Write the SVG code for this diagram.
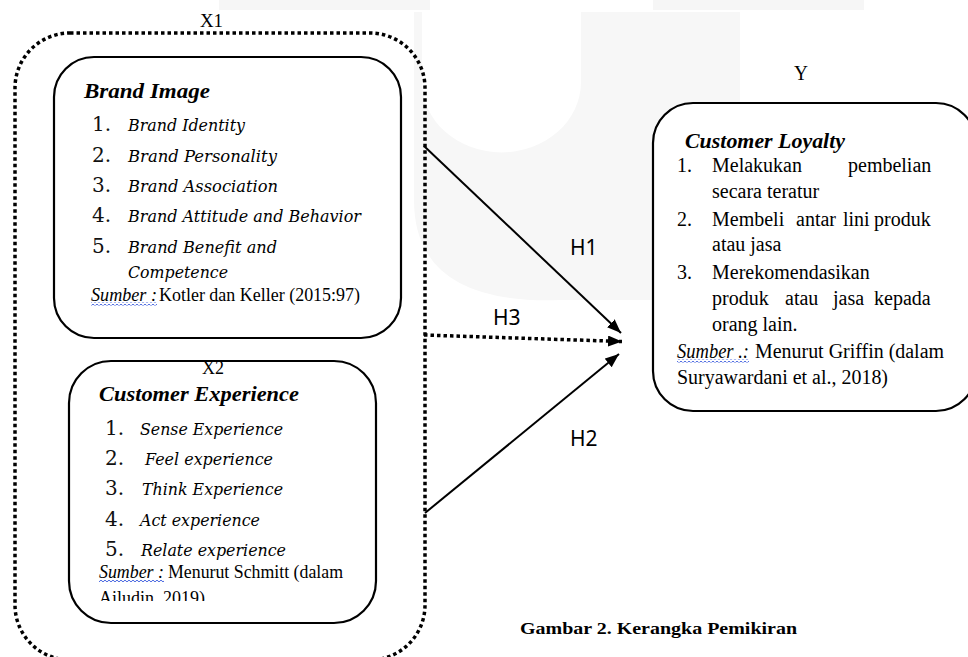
<svg xmlns="http://www.w3.org/2000/svg" width="968" height="657" viewBox="0 0 968 657">
<style>
.box{fill:#fff;stroke:#000;stroke-width:2.2}
.dot{fill:none;stroke:#000;stroke-width:3.5;stroke-dasharray:3.5 3}
.ln{fill:none;stroke:#000;stroke-width:2}
.hd{font-family:"Liberation Serif","Times New Roman",serif;font-weight:bold;font-style:italic;font-size:22px;fill:#000}
.it{font-family:"DejaVu Serif",serif;font-style:italic;font-size:17.5px;fill:#000}
.num{font-family:"DejaVu Serif",serif;font-size:20px;fill:#111}
.tm{font-family:"Liberation Serif","Times New Roman",serif;font-size:20px;fill:#000}
.sm{font-family:"Liberation Serif","Times New Roman",serif;font-size:18px;fill:#000}
.i{font-style:italic}
.lbl{font-family:"Noto Sans","Liberation Sans",sans-serif;font-size:21px;fill:#000}
.cap{font-family:"Liberation Serif","Times New Roman",serif;font-weight:bold;font-size:17px;fill:#000}
</style>
<defs>
<marker id="ah" markerUnits="userSpaceOnUse" markerWidth="15" markerHeight="12" refX="14" refY="5.5" orient="auto">
<path d="M0,0 L14,5.5 L0,11 Z" fill="#000"/>
</marker>
<pattern id="wave" width="4" height="3" patternUnits="userSpaceOnUse">
<path d="M0,2 Q1,0.3 2,2 T4,2" fill="none" stroke="#3355dd" stroke-width="0.9"/>
</pattern>
<clipPath id="cut"><rect x="60" y="580" width="320" height="21"/></clipPath>
</defs>

<g id="background">
<rect x="219" y="0" width="211" height="10" fill="#f6f6f6"/>
<rect x="653" y="0" width="211" height="10" fill="#f6f6f6"/>
<path d="M414,12 H740 V300 H560 Q414,305 414,200 Z" fill="#f7f7f7"/>
<path d="M422,12 H581 V82 A79,70 0 0 1 422,82 Z" fill="#fff"/>
</g>

<g id="X1">
<rect class="dot" x="15" y="33" width="410" height="627" rx="55" ry="55"/>
<text class="sm" x="200" y="27" textLength="23" lengthAdjust="spacingAndGlyphs">X1</text>
</g>

<g id="brand-image">
<rect class="box" x="54" y="57" width="347" height="281" rx="40" ry="40"/>
<text class="hd" x="84" y="98" textLength="126" lengthAdjust="spacingAndGlyphs">Brand Image</text>
<text class="num" x="92" y="131">1.</text>
<text class="it" x="128" y="131" textLength="117" lengthAdjust="spacingAndGlyphs">Brand Identity</text>
<text class="num" x="92" y="162">2.</text>
<text class="it" x="128" y="162" textLength="149" lengthAdjust="spacingAndGlyphs">Brand Personality</text>
<text class="num" x="92" y="192">3.</text>
<text class="it" x="128" y="192" textLength="150" lengthAdjust="spacingAndGlyphs">Brand Association</text>
<text class="num" x="92" y="222">4.</text>
<text class="it" x="128" y="222" textLength="233" lengthAdjust="spacingAndGlyphs">Brand Attitude and Behavior</text>
<text class="num" x="92" y="253">5.</text>
<text class="it" x="128" y="253" textLength="149" lengthAdjust="spacingAndGlyphs">Brand Benefit and</text>
<text class="it" x="128" y="278" textLength="100" lengthAdjust="spacingAndGlyphs">Competence</text>
<text class="sm i" x="91" y="301" textLength="66" lengthAdjust="spacingAndGlyphs">Sumber :</text>
<text class="sm" x="159" y="301" textLength="201" lengthAdjust="spacingAndGlyphs">Kotler  dan Keller  (2015:97)</text>
<rect x="91" y="302.5" width="66" height="3" fill="url(#wave)"/>
</g>

<g id="customer-experience">
<rect class="box" x="69" y="361" width="307" height="262" rx="42" ry="42"/>
<text class="sm" x="202" y="374" textLength="22" lengthAdjust="spacingAndGlyphs">X2</text>
<text class="hd" x="99" y="401" textLength="200" lengthAdjust="spacingAndGlyphs">Customer Experience</text>
<text class="num" x="105" y="435">1.</text>
<text class="it" x="140" y="435" textLength="143" lengthAdjust="spacingAndGlyphs">Sense Experience</text>
<text class="num" x="105" y="465">2.</text>
<text class="it" x="145" y="465" textLength="128" lengthAdjust="spacingAndGlyphs">Feel experience</text>
<text class="num" x="105" y="495">3.</text>
<text class="it" x="142" y="495" textLength="141" lengthAdjust="spacingAndGlyphs">Think Experience</text>
<text class="num" x="105" y="526">4.</text>
<text class="it" x="140" y="526" textLength="120" lengthAdjust="spacingAndGlyphs">Act experience</text>
<text class="num" x="105" y="556">5.</text>
<text class="it" x="141" y="556" textLength="145" lengthAdjust="spacingAndGlyphs">Relate experience</text>
<text class="sm i" x="99" y="578" textLength="65" lengthAdjust="spacingAndGlyphs">Sumber :</text>
<text class="sm" x="168" y="578" textLength="175" lengthAdjust="spacingAndGlyphs">Menurut Schmitt (dalam</text>
<rect x="99" y="579.5" width="65" height="3" fill="url(#wave)"/>
<text class="sm" x="99" y="604" textLength="106" lengthAdjust="spacingAndGlyphs" clip-path="url(#cut)">Ailudin, 2019)</text>
</g>

<g id="customer-loyalty">
<text class="tm" x="794" y="80" textLength="14" lengthAdjust="spacingAndGlyphs">Y</text>
<rect class="box" x="653" y="103" width="323" height="308" rx="40" ry="40"/>
<text class="hd" x="685" y="148" textLength="160" lengthAdjust="spacingAndGlyphs">Customer Loyalty</text>
<text class="tm" x="677" y="172">1.</text>
<text class="tm" y="172"><tspan x="712">Melakukan</tspan><tspan x="848">pembelian</tspan></text>
<text class="tm" x="712" y="198">secara teratur</text>
<text class="tm" x="677" y="226">2.</text>
<text class="tm" y="226"><tspan x="712">Membeli</tspan><tspan x="796">antar</tspan><tspan x="843">lini</tspan><tspan x="874">produk</tspan></text>
<text class="tm" x="712" y="251">atau jasa</text>
<text class="tm" x="677" y="279">3.</text>
<text class="tm" x="712" y="279">Merekomendasikan</text>
<text class="tm" y="305"><tspan x="712">produk</tspan><tspan x="785">atau</tspan><tspan x="833">jasa</tspan><tspan x="874">kepada</tspan></text>
<text class="tm" x="712" y="331">orang lain.</text>
<text class="tm i" x="677" y="358" textLength="72" lengthAdjust="spacingAndGlyphs">Sumber .:</text>
<text class="tm" x="755" y="358" textLength="189" lengthAdjust="spacingAndGlyphs">Menurut Griffin (dalam</text>
<rect x="677" y="359.5" width="72" height="3" fill="url(#wave)"/>
<text class="tm" x="677" y="384" textLength="211" lengthAdjust="spacingAndGlyphs">Suryawardani et al., 2018)</text>
</g>

<g id="connectors">
<line class="ln" x1="424" y1="146" x2="621" y2="333" marker-end="url(#ah)"/>
<line class="dot" x1="424" y1="335" x2="622" y2="341.5" marker-end="url(#ah)"/>
<line class="ln" x1="425" y1="513" x2="619" y2="354" marker-end="url(#ah)"/>
<text class="lbl" x="570" y="255">H1</text>
<text class="lbl" x="493" y="325">H3</text>
<text class="lbl" x="570" y="446">H2</text>
</g>

<g id="caption">
<text class="cap" x="520" y="634" textLength="277" lengthAdjust="spacingAndGlyphs">Gambar 2. Kerangka Pemikiran</text>
</g>
</svg>
